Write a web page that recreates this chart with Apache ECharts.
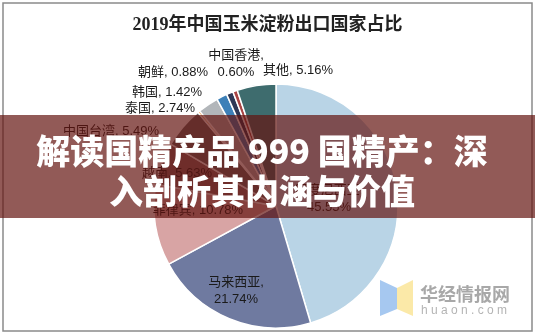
<!DOCTYPE html>
<html>
<head>
<meta charset="utf-8">
<script src="https://cdn.jsdelivr.net/npm/echarts@6/dist/echarts.min.js"></script>
<style>
  html, body { margin: 0; padding: 0; background: #fff; }
  #chart { width: 535px; height: 336px; }
</style>
</head>
<body>
<div id="chart"></div>
<script>
// ---- data ----
const titleText = '2019年中国玉米淀粉出口国家占比';
const countries = ['印度尼西亚', '马来西亚', '菲律宾', '越南', '中国台湾', '其他小额', '泰国', '韩国', '朝鲜', '中国香港', '其他'];
const shares = [45.55, 21.74, 10.78, 5.63, 5.49, 0.30, 2.74, 1.42, 0.88, 0.60, 5.16];
const bannerLines = ['解读国精产品 999 国精产：深', '入剖析其内涵与价值'];
const watermarkName = '华经情报网';
const watermarkSite = 'h u a o n . c o m';

// ---- styles ----
const colors = ['#B9D4E6', '#6F7AA0', '#D8A4A4', '#8A6868', '#6A6A6A', '#F0A050',
                '#B2B6BA', '#3D80B8', '#2E3856', '#A84444', '#3E6C6E'];
const twoLine = { '印度尼西亚': true, '马来西亚': true, '中国香港': true };
const hiddenLabel = { '其他小额': true };
// label anchor [x, y, align]
const labelPos = [
  [329, 199, 'center'],
  [236, 291, 'center'],
  [198, 210, 'center'],
  [177, 173, 'center'],
  [111, 131, 'center'],
  [0, 0, 'center'],
  [160, 108, 'center'],
  [167, 92, 'center'],
  [173, 72, 'center'],
  [236, 64, 'center'],
  [298, 70, 'center']
];

const chart = echarts.init(document.getElementById('chart'), null, { renderer: 'canvas' });

const pieData = countries.map((c, i) => ({
  name: c,
  value: shares[i],
  itemStyle: { color: colors[i] },
  label: { show: !hiddenLabel[c] }
}));

chart.setOption({
  animation: false,
  title: {
    text: titleText,
    left: 'center',
    top: 11,
    textStyle: { fontSize: 18, fontWeight: 'bold', color: '#222',
      fontFamily: '"Liberation Serif", "Noto Sans CJK SC", serif' }
  },
  series: [{
    type: 'pie',
    center: [276, 206],
    radius: 122,
    startAngle: 90,
    clockwise: true,
    avoidLabelOverlap: false,
    itemStyle: { borderColor: '#fff', borderWidth: 1.5 },
    label: {
      show: true,
      position: 'outside',
      color: '#1a1a1a',
      fontSize: 13,
      lineHeight: 17,
      fontFamily: '"Liberation Sans", "Noto Sans CJK SC", sans-serif',
      formatter: p => p.name + (twoLine[p.name] ? ',\n' : ', ') + p.value.toFixed(2) + '%'
    },
    labelLine: { show: false },
    labelLayout: params => {
      const p = labelPos[params.dataIndex];
      return { x: p[0], y: p[1], align: p[2], verticalAlign: 'middle' };
    },
    data: pieData
  }],
  graphic: [
    { type: 'rect', z: 50, shape: { x: 3, y: 3, width: 529, height: 328 },
      style: { fill: 'none', stroke: '#8a8a8a', lineWidth: 1.5 } },
    { type: 'polygon', z: 50, shape: { points: [[380, 280], [397, 288], [397, 309], [380, 316]] },
      style: { fill: '#A6C8F0' } },
    { type: 'polygon', z: 50, shape: { points: [[397, 288], [413, 280], [413, 316], [397, 309]] },
      style: { fill: '#FBE9A8' } },
    { type: 'text', z: 50, x: 420, y: 294,
      style: { text: watermarkName, fill: '#A8A8A8', font: 'bold 18px "Noto Sans CJK SC"', textVerticalAlign: 'middle' } },
    { type: 'text', z: 50, x: 421, y: 311,
      style: { text: watermarkSite, fill: '#B4B4B4', font: '12px "Liberation Sans"', textVerticalAlign: 'middle' } },
    { type: 'rect', z: 100, shape: { x: 0, y: 115, width: 535, height: 103 },
      style: { fill: 'rgba(100,20,15,0.7)' } },
    { type: 'text', z: 101, x: 262, y: 151,
      style: { text: bannerLines[0], fill: '#fff', font: '900 34px "Noto Sans CJK SC"',
        textAlign: 'center', textVerticalAlign: 'middle' } },
    { type: 'text', z: 101, x: 262, y: 191,
      style: { text: bannerLines[1], fill: '#fff', font: '900 34px "Noto Sans CJK SC"',
        textAlign: 'center', textVerticalAlign: 'middle' } }
  ]
});
</script>
</body>
</html>
